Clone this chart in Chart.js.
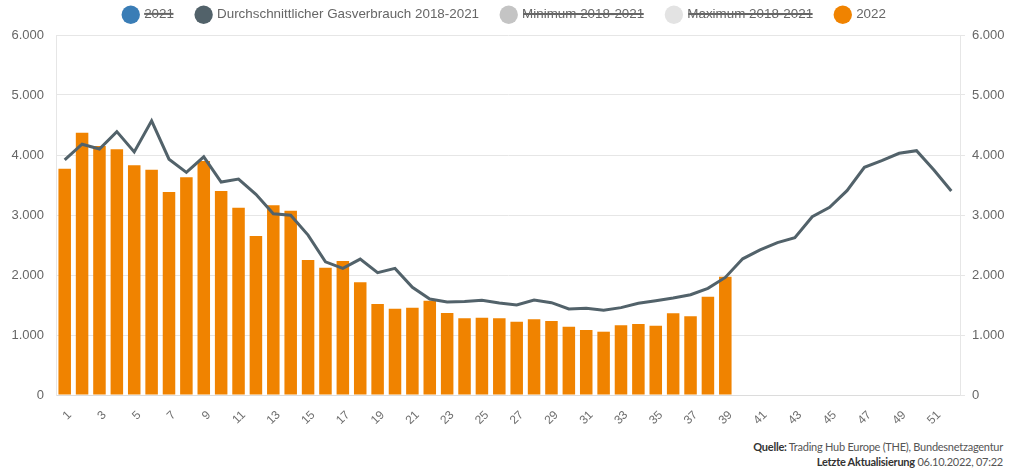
<!DOCTYPE html>
<html lang="de">
<head>
<meta charset="utf-8">
<title>Gasverbrauch</title>
<script src="https://cdn.jsdelivr.net/npm/chart.js@4/dist/chart.umd.min.js"></script>
<style>
  html, body { margin: 0; padding: 0; background: #fff; }
  #wrap { position: relative; width: 1010px; height: 471px; overflow: hidden; }
  #chart { position: absolute; left: 0; top: -15px; }
  .note { position: absolute; right: 7px; font-family: Lato, sans-serif; font-size: 11px; letter-spacing: -0.25px; color: #555; text-align: right; white-space: nowrap; }
  .note b { color: #333; }
</style>
</head>
<body>
<div id="wrap">
  <canvas id="chart" width="1010" height="450"></canvas>
  <div class="note" style="top:440px"><b>Quelle:</b> Trading Hub Europe (THE), Bundesnetzagentur</div>
  <div class="note" style="top:455px"><b>Letzte Aktualisierung</b> 06.10.2022, 07:22</div>
</div>
<script>
// Kalenderwochen
const weeks = [1, 2, 3, 4, 5, 6, 7, 8, 9, 10, 11, 12, 13, 14, 15, 16, 17, 18, 19, 20,
  21, 22, 23, 24, 25, 26, 27, 28, 29, 30, 31, 32, 33, 34, 35, 36, 37, 38, 39, 40,
  41, 42, 43, 44, 45, 46, 47, 48, 49, 50, 51, 52];

// Durchschnitt 2018-2021
const avg = [3920, 4180, 4100, 4390, 4050, 4570, 3930, 3710, 3970, 3550,
  3600, 3345, 3020, 2995, 2665, 2220, 2110, 2265, 2040, 2110,
  1795, 1600, 1550, 1560, 1578, 1535, 1500, 1583, 1539, 1435,
  1444, 1411, 1456, 1528, 1572, 1617, 1672, 1778, 1960, 2270,
  2417, 2539, 2622, 2972, 3128, 3406, 3794, 3906, 4028, 4072,
  3750, 3400];

// 2022 (bis KW 39)
const val2022 = [3770, 4372, 4150, 4095, 3828, 3755, 3383, 3628, 3900, 3400,
  3122, 2650, 3162, 3072, 2250, 2122, 2233, 1878, 1517, 1438,
  1455, 1572, 1367, 1278, 1288, 1278, 1222, 1262, 1233, 1138,
  1083, 1055, 1162, 1183, 1155, 1362, 1312, 1638, 1972];

// hidden series (no values shown in the picture)
const val2021 = [];
const min1821 = [];
const max1821 = [];

const yTicks = [0, 1000, 2000, 3000, 4000, 5000, 6000];

const fmt = (v) => String(v).replace(/\B(?=(\d{3})+(?!\d))/g, '.');

Chart.defaults.font.family = "'Liberation Sans', Arial, sans-serif";
Chart.defaults.color = '#666';

// legend takes a fixed height so the plot starts where it should
const legendHeight = {
  id: 'legendHeight',
  beforeLayout(chart) {
    const lg = chart.legend;
    if (lg && !lg._fixed) {
      const fit = lg.fit.bind(lg);
      lg.fit = function () { fit(); this.height = 50; };
      lg._fixed = true;
    }
  }
};

new Chart(document.getElementById('chart'), {
  data: {
    labels: weeks,
    datasets: [
      { type: 'line', label: '2021', data: val2021, hidden: true,
        borderColor: '#3a7db6', backgroundColor: '#3a7db6', pointRadius: 0 },
      { type: 'line', label: 'Durchschnittlicher Gasverbrauch 2018-2021', data: avg,
        borderColor: '#52626a', backgroundColor: '#52626a', borderWidth: 3,
        pointRadius: 0, tension: 0 },
      { type: 'line', label: 'Minimum 2018-2021', data: min1821, hidden: true,
        borderColor: '#c4c4c4', backgroundColor: '#c4c4c4', pointRadius: 0 },
      { type: 'line', label: 'Maximum 2018-2021', data: max1821, hidden: true,
        borderColor: '#e3e3e3', backgroundColor: '#e3e3e3', pointRadius: 0 },
      { type: 'bar', label: '2022', data: val2022,
        backgroundColor: '#f08300', barPercentage: 0.72, categoryPercentage: 1 }
    ]
  },
  options: {
    responsive: false,
    animation: false,
    devicePixelRatio: 1,
    layout: { padding: 0 },
    plugins: {
      tooltip: { enabled: false },
      legend: {
        position: 'top',
        labels: {
          usePointStyle: true,
          pointStyle: 'circle',
          boxHeight: 13,
          padding: 23,
          color: '#666',
          font: { size: 13.4 },
          generateLabels(chart) {
            return Chart.defaults.plugins.legend.labels.generateLabels(chart)
              .map((it) => Object.assign(it, { lineWidth: 0 }));
          }
        }
      }
    },
    scales: {
      x: {
        grid: { display: false },
        border: { display: true, color: '#dcdcdc' },
        ticks: {
          autoSkip: false,
          minRotation: 45,
          maxRotation: 45,
          labelOffset: 5,
          padding: 5,
          color: '#6f6f6f',
          font: { size: 12 },
          callback(v, i) { return i % 2 === 0 ? String(weeks[i]) : ''; }
        },
        afterFit(s) { s.height = 40; }
      },
      y: {
        position: 'left',
        min: 0,
        max: 6000,
        afterBuildTicks(s) { s.ticks = yTicks.map((v) => ({ value: v })); },
        ticks: { padding: 12, color: '#666', font: { size: 13 }, callback: fmt },
        grid: { color: '#e6e6e6', drawTicks: false },
        border: { display: true, color: '#e6e6e6' },
        afterFit(s) { s.width = 56; }
      },
      y2: {
        position: 'right',
        min: 0,
        max: 6000,
        afterBuildTicks(s) { s.ticks = yTicks.map((v) => ({ value: v })); },
        ticks: { padding: 7, color: '#666', font: { size: 13 }, callback: fmt },
        grid: { drawOnChartArea: false, color: '#e6e6e6', tickLength: 5 },
        border: { display: true, color: '#e6e6e6' },
        afterFit(s) { s.width = 50; }
      }
    }
  },
  plugins: [legendHeight]
});
</script>
</body>
</html>
